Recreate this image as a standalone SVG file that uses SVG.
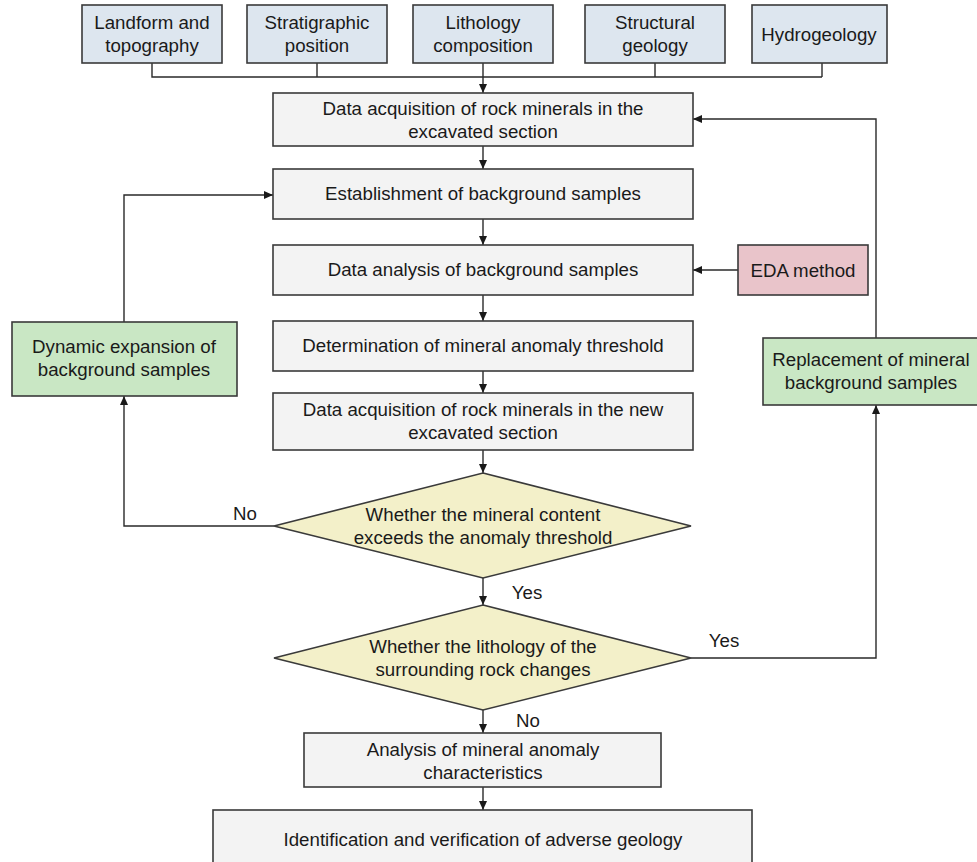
<svg xmlns="http://www.w3.org/2000/svg" width="977" height="862" viewBox="0 0 977 862">
<defs>
<marker id="ah" markerWidth="10" markerHeight="10" refX="9" refY="5" orient="auto" markerUnits="userSpaceOnUse">
<path d="M0,1 L9,5 L0,9 Z" fill="#1a1a1a"/>
</marker>
<style>
.box{stroke:#3a3a3a;stroke-width:1.6}
.top{fill:#dde6ef}
.proc{fill:#f3f3f3}
.dia{fill:#f3f0c9}
.green{fill:#c9e7c4}
.pink{fill:#e9c4ca}
text{font-family:"Liberation Sans",Arial,sans-serif;font-size:18.7px;fill:#1a1a1a;text-anchor:middle}
.conn path,.conn line,.conn polyline{fill:none;stroke:#2a2a2a;stroke-width:1.4}
</style>
</defs>
<rect width="977" height="862" fill="#ffffff"/>

<g class="conn">
<polyline points="152,63 152,77 822,77"/>
<line x1="317" y1="63" x2="317" y2="77"/>
<line x1="655" y1="63" x2="655" y2="77"/>
<line x1="822" y1="63" x2="822" y2="77"/>
<line x1="483" y1="63" x2="483" y2="93" marker-end="url(#ah)"/>
<line x1="483" y1="146" x2="483" y2="169" marker-end="url(#ah)"/>
<line x1="483" y1="219" x2="483" y2="245" marker-end="url(#ah)"/>
<line x1="483" y1="295" x2="483" y2="321" marker-end="url(#ah)"/>
<line x1="483" y1="371" x2="483" y2="393" marker-end="url(#ah)"/>
<line x1="483" y1="450" x2="483" y2="473" marker-end="url(#ah)"/>
<line x1="483" y1="578" x2="483" y2="605" marker-end="url(#ah)"/>
<line x1="483" y1="710" x2="483" y2="733" marker-end="url(#ah)"/>
<line x1="483" y1="787" x2="483" y2="810" marker-end="url(#ah)"/>
<line x1="738" y1="270" x2="693" y2="270" marker-end="url(#ah)"/>
<polyline points="274,526 124,526 124,396" marker-end="url(#ah)"/>
<polyline points="124,322 124,195 273,195" marker-end="url(#ah)"/>
<polyline points="691,658 876,658 876,405" marker-end="url(#ah)"/>
<polyline points="876,338 876,119 693,119" marker-end="url(#ah)"/>
</g>

<g id="n-landform"><rect class="box top" x="82" y="5" width="140" height="58"/><text x="152" y="29">Landform and</text><text x="152" y="52">topography</text></g>
<g id="n-strat"><rect class="box top" x="247" y="5" width="140" height="58"/><text x="317" y="29">Stratigraphic</text><text x="317" y="52">position</text></g>
<g id="n-litho"><rect class="box top" x="413" y="5" width="140" height="58"/><text x="483" y="29">Lithology</text><text x="483" y="52">composition</text></g>
<g id="n-struct"><rect class="box top" x="585" y="5" width="140" height="58"/><text x="655" y="29">Structural</text><text x="655" y="52">geology</text></g>
<g id="n-hydro"><rect class="box top" x="752" y="5" width="135" height="58"/><text x="819" y="41">Hydrogeology</text></g>

<g id="n-acq"><rect class="box proc" x="273" y="93" width="420" height="53"/><text x="483" y="115">Data acquisition of rock minerals in the</text><text x="483" y="138">excavated section</text></g>
<g id="n-estab"><rect class="box proc" x="273" y="169" width="420" height="50"/><text x="483" y="200">Establishment of background samples</text></g>
<g id="n-analysis"><rect class="box proc" x="273" y="245" width="420" height="50"/><text x="483" y="276">Data analysis of background samples</text></g>
<g id="n-determ"><rect class="box proc" x="273" y="321" width="420" height="50"/><text x="483" y="352">Determination of mineral anomaly threshold</text></g>
<g id="n-acqnew"><rect class="box proc" x="273" y="393" width="420" height="57"/><text x="483" y="416">Data acquisition of rock minerals in the new</text><text x="483" y="439">excavated section</text></g>

<g id="n-eda"><rect class="box pink" x="738" y="245" width="130" height="50"/><text x="803" y="277">EDA method</text></g>
<g id="n-dynamic"><rect class="box green" x="12" y="322" width="225" height="74"/><text x="124" y="353">Dynamic expansion of</text><text x="124" y="376">background samples</text></g>
<g id="n-replace"><rect class="box green" x="763" y="338" width="216" height="67"/><text x="871" y="366">Replacement of mineral</text><text x="871" y="389">background samples</text></g>

<g id="n-dec1"><polygon class="box dia" points="483,473 691,526 483,578 274,526"/><text x="483" y="521">Whether the mineral content</text><text x="483" y="544">exceeds the anomaly threshold</text></g>
<g id="n-dec2"><polygon class="box dia" points="483,605 691,658 483,710 274,658"/><text x="483" y="653">Whether the lithology of the</text><text x="483" y="676">surrounding rock changes</text></g>

<g id="n-char"><rect class="box proc" x="304" y="733" width="357" height="54"/><text x="483" y="756">Analysis of mineral anomaly</text><text x="483" y="779">characteristics</text></g>
<g id="n-ident"><rect class="box proc" x="213" y="810" width="539" height="60"/><text x="483" y="846">Identification and verification of adverse geology</text></g>

<g id="labels">
<text x="245" y="520">No</text>
<text x="527" y="599">Yes</text>
<text x="724" y="647">Yes</text>
<text x="528" y="727">No</text>
</g>
</svg>
